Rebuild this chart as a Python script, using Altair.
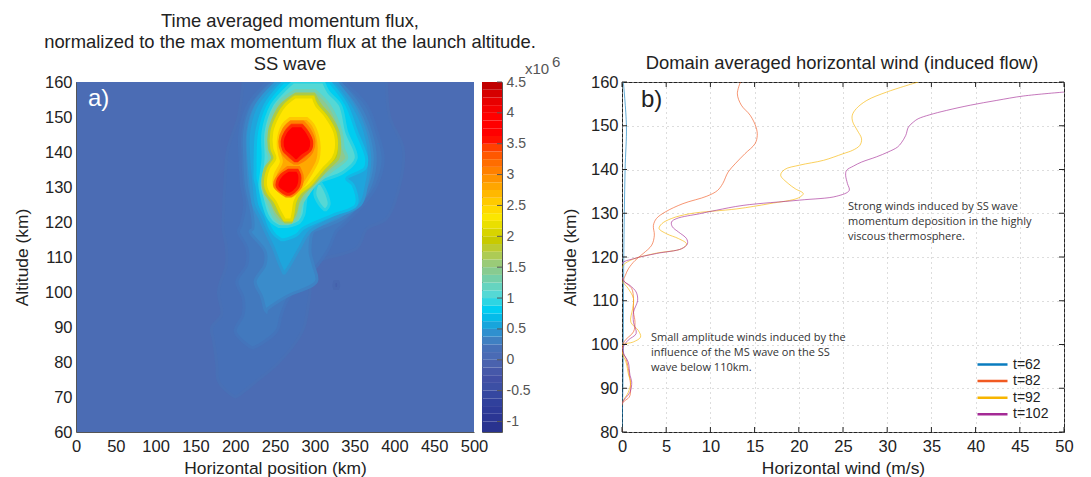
import altair as alt
import pandas as pd

SANS = "Liberation Sans"
NOTE = "Open Sans"

# ---- panel a: filled contour levels (altitude km, left km, right km)
BACKGROUND = "#4b6cb4"
L01_ALT = [160,150,141,131,121,118,112.6,107.8,100.2,93.6,89.8,86,79.3,74.6,70.8,70]
L01_L = [210,204,191,187,185,185,189,189,179,183,170.5,173,177,179,194,200]
L01_R = [390,394,411,407,390,365,353,298,294,290,286,277,252,227,206,200]
L02_ALT = [160,153.4,145.8,138.2,130.6,124.9,119,117.3,112.6,107.8,103,98.3,93.6,88.8,85,84]
L02_L = [240,216,206,206,208,212,207,204,214.5,214.5,202,210,210,200,214.5,222]
L02_R = [336,365,378,386,378,361,335,327,318,304,285,267,258,252,231,222]
L035_ALT = [160,153.4,145.8,138.2,130.6,124.9,121,118,117.3,111.6,107.8,103,98.8,95,94.5]
L035_L = [248,222,212,212,214,219,222,222,218.6,237.5,237.5,225,233,237.5,239]
L035_R = [331,355,370,376,370,355,335,305,298,294,298,302,265,240,239]
L05_ALT = [160,153.4,145.8,138.2,130.6,124.9,121,117.3,112.6,107.8,105.4]
L05_L = [252,227,217,217,220,223,231,238,248,256,261]
L05_R = [327,348,363,369,365,357,323,294,281,269,262]
L075_ALT = [160,153.4,145.8,138.2,135.3,132.4,130.6,124.9,122,118.2,116.3,114.9]
L075_L = [260.5,237.5,227,225,225,225,227,231,237.5,244,250,258]
L075_R = [319,340,352.6,365,363,340,348,352,323,285.6,277,261]
L10_ALT = [160,157.2,153.4,145.8,138.2,134.2,130.6,127.7,122,120,118.7]
L10_L = [273,260,246,235,235,233,231,233,240,246,255]
L10_R = [311,317,332,340,352,336,298,290,286,281,265]
PATCH_ALT = [131,128,125,123.5]
PATCH_L = [303,300,306,312]
PATCH_R = [308,315,318,314]
L14_ALT = [157.6,153.4,145.8,141,138.2,135.3,130.6,128.2,125,121,119.5]
L14_L = [276,252,240,240,243,238,234,236,242,250,258]
L14_R = [300,318,333,336,340,325,300,292,283,278,266]
L19_ALT = [156.5,153.4,150.5,145.8,141,138.2,135.3,130.6,128.2,125.8,123,120]
L19_L = [276,258,250,243,243,247,238,235,238,246,252,263]
L19_R = [299,307,318,329,331,329,316,297,285,279,276,270]
L225_ALT = [155.7,153.4,150.5,145.8,141,138.2,135.3,130.6,128.2,125.8,123,120.6]
L225_L = [275,262.6,254,246,246,250,241.7,238,241.7,250,256,262]
L225_R = [298,302,313,325,327,323,311,294,281,275,273,271]
L275_ALT = [149.6,147.7,142.9,139.1,137.2,133.4,130.6,128.7,127.5]
L275_L = [269,260,254,256,258,250,249,256,266]
L275_R = [290,298,305,305,303,294,286,279,272]
L325U_ALT = [148.6,146.5,143,140,138,136.8]
L325U_L = [270,261,256,259,266,274]
L325U_R = [285,293,299,296,288,279]
L325D_ALT = [135.6,133.4,131.5,130,128.7,127.4]
L325D_L = [266,255,250,250,256,264]
L325D_R = [280,284,284,282,277,270]
L35U_ALT = [147.5,145.5,143,140.5,139,137.5]
L35U_L = [271,263,259,261,268,275]
L35U_R = [284,291,296,294,285,278]
L35D_ALT = [134.8,133.4,131.5,130,128.7,127.9]
L35D_L = [267,258,253,253,259,265]
L35D_R = [278,281,281,279,274,268]
DOT_ALT = [101,102,103]
DOT_L = [325,324,325]
DOT_R = [329,330,329]

# fill colour, soft edge colour, altitudes, left, right
LEVELS = [
    ("#4670b8", "#4870b6", L01_ALT, L01_L, L01_R),
    ("#4560ac", "#4868b0", DOT_ALT, DOT_L, DOT_R),
    ("#4279be", "#4474bb", L02_ALT, L02_L, L02_R),
    ("#3a8ccb", "#3e82c4", L035_ALT, L035_L, L035_R),
    ("#1fa5dc", "#2c98d3", L05_ALT, L05_L, L05_R),
    ("#00cdf0", "#10b9e6", L075_ALT, L075_L, L075_R),
    ("#55d8d5", "#2ad2e2", L10_ALT, L10_L, L10_R),
    ("#55d8d5", "#2ad2e2", PATCH_ALT, PATCH_L, PATCH_R),
    ("#8ec98f", "#72d0b2", L14_ALT, L14_L, L14_R),
    ("#c8cc00", "#abca48", L19_ALT, L19_L, L19_R),
    ("#ffe600", "#e4d900", L225_ALT, L225_L, L225_R),
    ("#ffa800", "#ffc800", L275_ALT, L275_L, L275_R),
    ("#ff5500", "#ff8000", L325U_ALT, L325U_L, L325U_R),
    ("#ff5500", "#ff8000", L325D_ALT, L325D_L, L325D_R),
    ("#ff0000", "#ff2a00", L35U_ALT, L35U_L, L35U_R),
    ("#ff0000", "#ff2a00", L35D_ALT, L35D_L, L35D_R),
]

# ---- colour bar
CB_EDGES = [-1.17] + [-1 + 0.125 * i for i in range(44)]
CB_COLORS = ["#29338f","#2b3694","#2d3a98","#30409c","#3547a0","#3c4fa4","#414fa5","#4658a9","#4a62ae",
             "#4a6bb5","#4670b8","#3f80c2","#2f90cf","#18a5dc","#05bbe9","#00cef2","#2dd5e3","#55d8d5",
             "#66d4c0","#75cfa9","#88cb90","#9acb78","#adcb55","#bccb30","#c8ca00","#d8d400","#eadf00",
             "#fbe600","#ffd900","#ffca00","#ffb800","#ffa600","#ff9300","#ff8000","#ff6d00","#ff5800",
             "#ff4000","#ff1000","#ff0000","#ff0000","#ff0000","#f50000","#e80000","#d60000","#c00000"]
CB_TICKS = [-1,-0.5,0,0.5,1,1.5,2,2.5,3,3.5,4,4.5]

# ---- panel b: wind profiles
T62_ALT = [160,150,140,120,100,90,80]
T62_W = [0.15,0.5,0.35,0.2,0.15,0.1,0]
T82_ALT = [160,157.3,154.7,152.4,149.7,147.8,145.9,143.6,141.3,139.4,136.8,135.2,133.9,132.2,130.3,128.8,127.2,125,
           122.7,120.8,119.2,117.3,115.8,114.7,112.8,110.5,107.4,105.1,102.9,100.6,98.3,96.8,93,89.9,88,86.5,80]
T82_W = [13.4,13.05,13.5,14.5,15.16,15.3,15.05,13.9,12.8,12.0,11.4,10.8,9.6,6.9,4.9,3.9,3.55,3.66,
         3.36,2.4,1.47,0.72,0.38,0.2,1.1,1.3,1.3,1.47,1.3,0.23,0.05,0.45,0.83,0.98,0.83,0.03,0]
T92_ALT = [160,157.7,155.8,153.9,152.4,150.9,149,147,145.5,144.4,143.6,142.1,141,140,138.7,136.8,135.6,134.5,133.5,132.2,131,
           129.9,128.8,127.6,126.5,125.3,124.2,123,121.9,120.8,119.2,117.7,114.7,112.8,110.5,108.2,105.1,103.2,101.7,
           100.6,99.8,97.9,96,93,91.4,89.1,86.5,80]
T92_W = [33.5,29.94,27.7,26.5,26.05,26.1,26.6,27.1,26.9,26.1,25,22.8,20.1,18.4,17.95,18.8,19.6,20.5,19.95,16.7,13,
         7.7,5.6,4.5,4.2,5.05,6.4,7.3,6.75,3.7,0.9,0,0,0.7,1.3,1.2,1,1.85,2.1,
         1.3,0,0.05,0.45,0.75,0.98,0.72,0,0]
T102_ALT = [157.7,156.8,155.8,154.7,153.5,152.5,151.6,150.9,149.7,147.8,146.1,145.1,144,142.9,141.7,140.8,139.8,138.7,136.8,135.2,
            133.9,133,131.8,130.7,129.9,128.8,128,126.9,125.7,124.2,123,121.9,120.8,119.6,118.5,114.7,113.5,112,110.1,
            107.4,105.1,102.5,101,99.4,97.9,96,93,91.4,89.1,86.5,80]
T102_W = [50,45.4,42.4,39.4,36.7,34.8,33.5,33,32.4,32.1,31.6,31.15,30.1,28.8,27.1,26.2,25.4,25.3,25.5,25.7,
          24.3,20.1,13.7,10.7,8.8,6.2,5.6,5.7,6.4,7.3,7.4,6.75,3.9,1.3,0,0.1,0.9,1.6,1.77,
          1.3,1.3,1.6,0.7,0.15,0.2,0.7,0.9,1.1,0.9,0,0]
SERIES = [("t=62", T62_ALT, T62_W), ("t=82", T82_ALT, T82_W), ("t=92", T92_ALT, T92_W), ("t=102", T102_ALT, T102_W)]
SERIES_COLORS = ["#0a7cbf", "#f15a22", "#f7b500", "#a42a95"]

NOTE_1 = "Strong winds induced by SS wave\nmomentum deposition in the highly\nviscous thermosphere."
NOTE_2 = "Small amplitude winds induced by the\ninfluence of the MS wave on the SS\nwave below 110km."
X_TICKS_A = list(range(0, 501, 50))
Y_TICKS_A = list(range(60, 161, 10))
X_TICKS_B = list(range(0, 51, 5))
Y_TICKS_B = list(range(80, 161, 10))

W_A, W_CB, W_GAP, W_B, H = 398, 20, 104, 442, 350
INK = "#222222"

axis_common = dict(labelFont=SANS, labelFontSize=16.5, labelColor=INK, titleFont=SANS, titleFontSize=17.4,
                   titleColor=INK, titleFontWeight="normal", tickSize=0, labelOverlap=False, labelFlush=False)

axis_x_a = alt.Axis(values=X_TICKS_A, grid=False, domainColor="#555555", labelPadding=6, titlePadding=5, **axis_common)
y_a = alt.Y("alt:Q", title="Altitude (km)", scale=alt.Scale(domain=[60, 160], nice=False),
            axis=alt.Axis(values=Y_TICKS_A, grid=False, domainColor="#555555", labelPadding=4, titlePadding=13, **axis_common))

layers = []
for color, edge, a, l, r in LEVELS:
    df = pd.DataFrame({"alt": a, "left": l, "right": r})
    layers.append(alt.Chart(df).mark_area(orient="horizontal", interpolate="catmull-rom", color=color, stroke=edge,
                                          strokeWidth=3, clip=True)
                  .encode(x=alt.X("left:Q", stack=None, title="Horizontal position (km)",
                                  scale=alt.Scale(domain=[0, 500], nice=False),
                                  axis=axis_x_a), x2="right:Q", y=y_a))
label_a = alt.Chart(pd.DataFrame({"t": ["a)"]})).mark_text(font=SANS, fontSize=24, color="white", align="left", baseline="middle").encode(
    x=alt.value(12), y=alt.value(17), text="t:N")
panel_a = alt.layer(*layers, label_a).properties(
    width=W_A, height=H, view=alt.ViewConfig(fill=BACKGROUND, stroke=None),
    title=alt.TitleParams(["Time averaged momentum flux,", "normalized to the max momentum flux at the launch altitude.", "SS wave"],
                          font=SANS, fontSize=18.4, fontWeight="normal", color=INK, lineHeight=21.5, anchor="middle", dx=15, offset=1))

# colour bar
cb_axis = alt.Axis(orient="right", values=CB_TICKS, labelExpr="'' + datum.value", labelFont=SANS, labelFontSize=14,
                   labelColor="#555555", tickSize=0, labelPadding=4, domain=False, grid=False, labelOverlap=False, labelFlush=False)
cb_scale = alt.Scale(domain=[-1.17, 4.5], nice=False)
cb_df = pd.DataFrame({"lo": CB_EDGES, "hi": CB_EDGES[1:] + [4.5], "c": CB_COLORS})
cb_rect = alt.Chart(cb_df).mark_rect().encode(y=alt.Y("lo:Q", title=None, scale=cb_scale, axis=cb_axis), y2="hi:Q",
                                              x=alt.value(0), x2=alt.value(W_CB), color=alt.Color("c:N", scale=None))
cb_tick = alt.Chart(pd.DataFrame({"v": CB_TICKS})).mark_rule(color="#555555").encode(
    y=alt.Y("v:Q", title=None, scale=cb_scale, axis=cb_axis), x=alt.value(W_CB - 5), x2=alt.value(W_CB))
cb_exp = alt.Chart(pd.DataFrame({"t": ["x10"]})).mark_text(font=SANS, fontSize=15, color="#555555", align="left", baseline="middle").encode(
    x=alt.value(43), y=alt.value(-13), text="t:N")
cb_exp2 = alt.Chart(pd.DataFrame({"t": ["6"]})).mark_text(font=SANS, fontSize=15, color="#555555", align="left", baseline="middle").encode(
    x=alt.value(70), y=alt.value(-20), text="t:N")
panel_cb = alt.layer(cb_rect, cb_tick, cb_exp, cb_exp2).properties(
    width=W_CB, height=H, view=alt.ViewConfig(stroke="#555555", strokeWidth=1))

# empty view that keeps the gap between the colour bar and panel b
gap = alt.Chart(pd.DataFrame({"t": [""]})).mark_text().encode(text="t:N").properties(
    width=W_GAP, height=H, view=alt.ViewConfig(stroke=None))

# panel b
rows = []
for name, a, w in SERIES:
    for i, (ai, wi) in enumerate(zip(a, w)):
        rows.append({"t": name, "alt": ai, "wind": wi, "i": i})
wind = pd.DataFrame(rows)
x_b = alt.X("wind:Q", title="Horizontal wind (m/s)", scale=alt.Scale(domain=[0, 50], nice=False),
            axis=alt.Axis(values=X_TICKS_B, grid=True, gridColor="#bbbbbb", gridDash=[1, 4], domain=False, labelPadding=6, titlePadding=5, **axis_common))
y_b = alt.Y("alt:Q", title="Altitude (km)", scale=alt.Scale(domain=[80, 160], nice=False),
            axis=alt.Axis(values=Y_TICKS_B, grid=True, gridColor="#bbbbbb", gridDash=[1, 4], domain=False, labelPadding=4, titlePadding=11, **axis_common))
lines = alt.Chart(wind).mark_line(interpolate="catmull-rom", strokeWidth=0.75, strokeOpacity=0.85, clip=True).encode(
    x=x_b, y=y_b, order="i:Q",
    color=alt.Color("t:N", scale=alt.Scale(domain=[s[0] for s in SERIES], range=SERIES_COLORS),
                    legend=alt.Legend(orient="none", legendX=900, legendY=275, title=None, symbolType="stroke", symbolSize=900,
                                      symbolStrokeWidth=2.5, symbolOpacity=1, labelFont=SANS, labelFontSize=14, labelColor=INK, rowPadding=1.6,
                                      labelOffset=4, clipHeight=15, padding=0)))
tick_kw = dict(color=INK)
bx = pd.DataFrame({"wind": X_TICKS_B})
by = pd.DataFrame({"alt": Y_TICKS_B})
tx1 = alt.Chart(bx).mark_rule(**tick_kw).encode(x=alt.X("wind:Q"), y=alt.value(0), y2=alt.value(5))
tx2 = alt.Chart(bx).mark_rule(**tick_kw).encode(x=alt.X("wind:Q"), y=alt.value(H - 5), y2=alt.value(H))
ty1 = alt.Chart(by).mark_rule(**tick_kw).encode(y=alt.Y("alt:Q"), x=alt.value(0), x2=alt.value(5))
ty2 = alt.Chart(by).mark_rule(**tick_kw).encode(y=alt.Y("alt:Q"), x=alt.value(W_B - 5), x2=alt.value(W_B))
label_b = alt.Chart(pd.DataFrame({"t": ["b)"]})).mark_text(font=SANS, fontSize=24, color=INK, align="left", baseline="middle").encode(
    x=alt.value(19), y=alt.value(18), text="t:N")

def note(text, px, py):
    df = pd.DataFrame({"t": [text]})
    return alt.Chart(df).mark_text(font=NOTE, fontSize=11, color="#333333", align="left", baseline="top",
                                   lineBreak="\n", lineHeight=14.8).encode(x=alt.value(px), y=alt.value(py), text="t:N")

n1 = note(NOTE_1, 226, 119)
n2 = note(NOTE_2, 29, 250)
panel_b = alt.layer(lines, tx1, tx2, ty1, ty2, label_b, n1, n2).properties(
    width=W_B, height=H, view=alt.ViewConfig(stroke=INK, strokeWidth=1),
    title=alt.TitleParams("Domain averaged horizontal wind (induced flow)", font=SANS, fontSize=18.4, fontWeight="normal",
                          color=INK, anchor="middle", dx=-1, offset=2))

chart = alt.hconcat(panel_a, panel_cb, gap, panel_b, spacing=8, bounds="flush").properties(
    padding={"left": 5, "top": 3, "right": 0, "bottom": 0})
chart.save("out.html", embed_options={"renderer": "svg", "actions": False})
